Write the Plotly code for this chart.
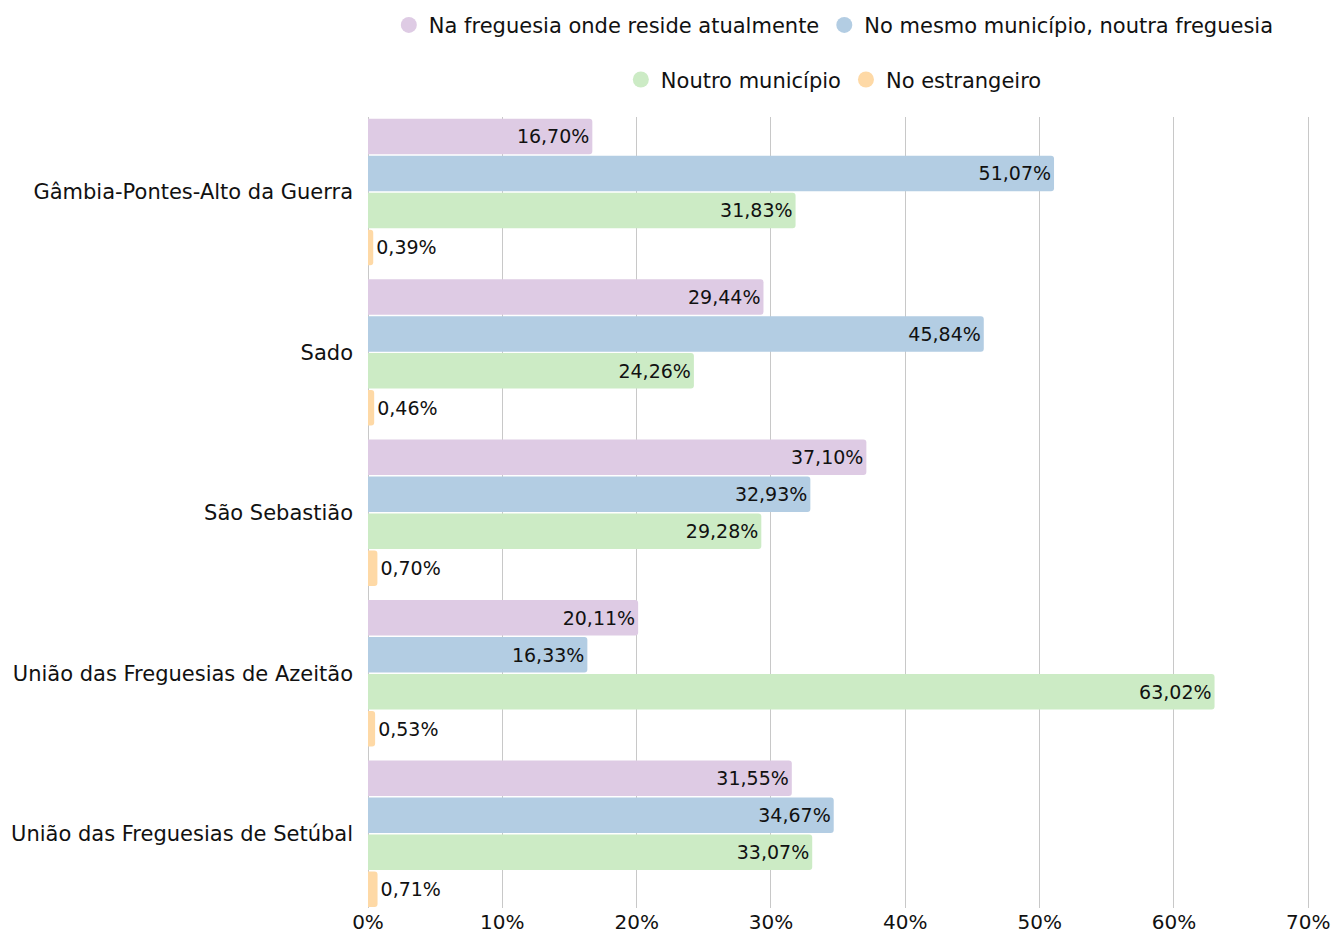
import plotly.graph_objects as go

# dados
freguesias = [
    "Gâmbia-Pontes-Alto da Guerra",
    "Sado",
    "São Sebastião",
    "União das Freguesias de Azeitão",
    "União das Freguesias de Setúbal",
]
series_names = [
    "Na freguesia onde reside atualmente",
    "No mesmo município, noutra freguesia",
    "Noutro município",
    "No estrangeiro",
]
na_freguesia = [16.70, 29.44, 37.10, 20.11, 31.55]
mesmo_municipio = [51.07, 45.84, 32.93, 16.33, 34.67]
noutro_municipio = [31.83, 24.26, 29.28, 63.02, 33.07]
estrangeiro = [0.39, 0.46, 0.70, 0.53, 0.71]
tick_vals = [0, 10, 20, 30, 40, 50, 60, 70]

colors = ["#decbe4", "#b3cde3", "#ccebc5", "#fed9a6"]
FONT = "DejaVu Sans"

fig = go.Figure()
all_series = [na_freguesia, mesmo_municipio, noutro_municipio, estrangeiro]
for i, (name, vals) in enumerate(zip(series_names, all_series)):
    pos = ["inside" if v > 5 else "outside" for v in vals]
    fig.add_trace(go.Bar(
        y=freguesias, x=vals, orientation="h", name=name,
        marker=dict(color=colors[i], line=dict(width=0), cornerradius=3),
        texttemplate="%{x:.2f}%", textposition=pos, insidetextanchor="end",
        textfont=dict(size=19, color="#111", family=FONT),
        cliponaxis=False, showlegend=False, hoverinfo="x+y",
    ))
    # legenda com círculos
    fig.add_trace(go.Scatter(
        x=[None], y=[None], mode="markers", name=name,
        marker=dict(symbol="circle", size=20, color=colors[i]),
        legend="legend" if i < 2 else "legend2",
    ))

legend_style = dict(orientation="h", xanchor="center", yanchor="middle",
                    font=dict(size=21, family=FONT, color="#111"),
                    itemsizing="trace", bgcolor="rgba(0,0,0,0)")

fig.update_layout(
    width=1335, height=934,
    margin=dict(l=368, r=24, t=117, b=26, autoexpand=False),
    paper_bgcolor="white", plot_bgcolor="white",
    barmode="group", bargap=0.078, bargroupgap=0.04,
    separators=",.",
    font=dict(family=FONT, size=21, color="#111"),
    legend=dict(x=0.494, y=1.116, **legend_style),
    legend2=dict(x=0.494, y=1.047, **legend_style),
    xaxis=dict(range=[0, 70.2], tickvals=tick_vals,
               ticktext=[f"{v}%" for v in tick_vals],
               showgrid=True, gridcolor="#c8c8c8", gridwidth=1,
               zeroline=True, zerolinecolor="#c8c8c8", zerolinewidth=1,
               tickfont=dict(size=20), fixedrange=True),
    yaxis=dict(range=[4.463, -0.467], showgrid=False, ticklabelstandoff=14,
               tickfont=dict(size=21), automargin=False),
)

# tira a margem do body para a figura ocupar a janela inteira
fig.write_html("out.html", config={"displayModeBar": False},
               post_script="document.body.style.margin='0';")
